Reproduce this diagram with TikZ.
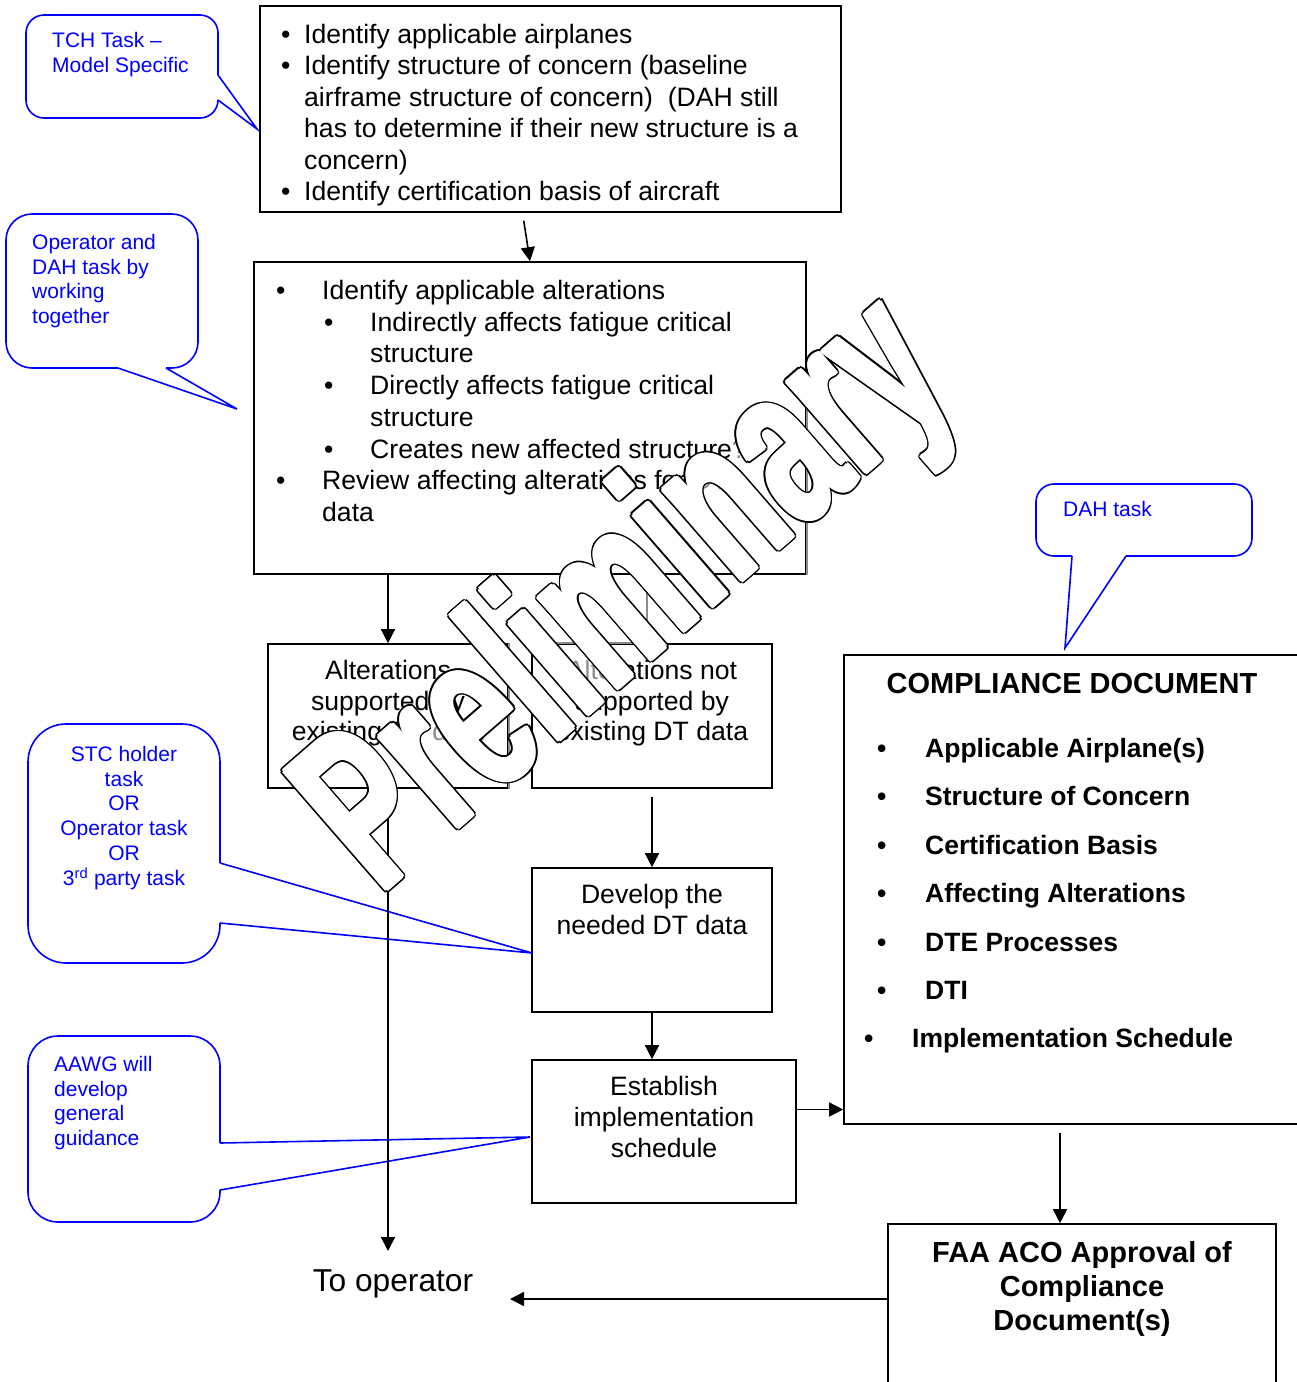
\documentclass[tikz,border=0pt]{standalone}
\usepackage{fontspec}
\setmainfont{Liberation Sans}
\usepackage{xcolor}
\usetikzlibrary{arrows.meta,positioning,calc}
\definecolor{noteblue}{HTML}{0000FF}
\definecolor{fadegray}{HTML}{8C8C8C}
\newcommand{\notefont}{\fontsize{21}{24.7}\selectfont}
\newcommand{\wmfont}{\fontsize{141}{160}\selectfont\bfseries}
\newcommand{\bul}[1]{\makebox[#1][l]{\textbullet}}

\begin{document}
\begin{tikzpicture}[x=1pt, y=-1pt,
  every node/.style={inner sep=0pt},
  box/.style={draw, line width=1.6pt},
  txt/.style={anchor=base},
  ltxt/.style={anchor=base west},
  note/.style={font=\notefont, text=noteblue},
  bubble/.style={draw=noteblue, line width=1.6pt},
  arrow/.style={-{Triangle[length=14pt,width=14pt]}, line width=1.6pt},
  faded/.style={draw=fadegray, line width=1.6pt},
  wmark/.style={anchor=base west, rotate=41, yscale=1.62, font=\wmfont}
]
\useasboundingbox (0,0) rectangle (1297,1382);
\clip (0,0) rectangle (1297,1382);

% boxes
\node[box, minimum width=581pt, minimum height=206pt] (idbox) at (550.5,109) {};
\node[box, minimum width=552pt, minimum height=312pt] (alterbox) at (530,418) {};
\node[box, minimum width=240pt, minimum height=144pt] (supbox) at (388,716) {};
\node[box, minimum width=240pt, minimum height=144pt] (unsupbox) at (652,716) {};
\node[box, minimum width=240pt, minimum height=144pt] (devbox) at (652,940) {};
\node[box, minimum width=264pt, minimum height=143pt] (schedbox) at (664,1131.5) {};
\node[box, minimum width=470pt, minimum height=469pt] (compbox) at (1079,889.5) {};
\node[box, minimum width=388pt, minimum height=196pt] (faabox) at (1082,1322) {};

% box texts
\node[ltxt, font=\fontsize{26.6}{31.4}\selectfont] (idtext) at (281,43.5) {\begin{tabular}[t]{@{}l@{}}
\bul{23pt}Identify applicable airplanes\\
\bul{23pt}Identify structure of concern (baseline\\
\hspace*{23pt}airframe structure of concern)\ \ (DAH still\\
\hspace*{23pt}has to determine if their new structure is a\\
\hspace*{23pt}concern)\\
\bul{23pt}Identify certification basis of aircraft
\end{tabular}};
\node[ltxt, font=\fontsize{26.6}{31.7}\selectfont] (altertext) at (276,299.5) {\begin{tabular}[t]{@{}l@{}}
\bul{46pt}Identify applicable alterations\\
\hspace*{48pt}\bul{46pt}Indirectly affects fatigue critical\\
\hspace*{94pt}structure\\
\hspace*{48pt}\bul{46pt}Directly affects fatigue critical\\
\hspace*{94pt}structure\\
\hspace*{48pt}\bul{46pt}Creates new affected structure\textcolor{fadegray}{?}\\
\bul{46pt}Review affecting alterations for \textcolor{fadegray}{DT}\\
\hspace*{46pt}data
\end{tabular}};
\node[txt, font=\fontsize{26.6}{30.5}\selectfont] (suptext) at (388,679.5) {\begin{tabular}[t]{@{}c@{}}
Alterations\\ supported by\\ existing DT \textcolor{fadegray}{data}\end{tabular}};
\node[txt, font=\fontsize{26.6}{30.5}\selectfont] (unsuptext) at (652,679.5) {\begin{tabular}[t]{@{}c@{}}
\textcolor{fadegray}{Alter}ations not\\ supported by\\ existing DT data\end{tabular}};
\node[txt, font=\fontsize{26.6}{31}\selectfont] (devtext) at (652,903.5) {\begin{tabular}[t]{@{}c@{}}
Develop the\\ needed DT data\end{tabular}};
\node[txt, font=\fontsize{26.6}{31}\selectfont] (schedtext) at (664,1095.5) {\begin{tabular}[t]{@{}c@{}}
Establish\\ implementation\\ schedule\end{tabular}};
\node[txt, font=\fontsize{29}{34}\selectfont\bfseries] (comptitle) at (1072,693.4) {COMPLIANCE DOCUMENT};
\node[ltxt, font=\fontsize{26.5}{48.4}\selectfont\bfseries] (complist) at (877,757.5) {\begin{tabular}[t]{@{}l@{}}
\bul{48pt}Applicable Airplane(s)\\
\bul{48pt}Structure of Concern\\
\bul{48pt}Certification Basis\\
\bul{48pt}Affecting Alterations\\
\bul{48pt}DTE Processes\\
\bul{48pt}DTI\\
\hspace*{-13pt}\bul{48pt}Implementation Schedule
\end{tabular}};
\node[txt, font=\fontsize{29}{34}\selectfont\bfseries] (faatext) at (1082,1262.4) {\begin{tabular}[t]{@{}c@{}}
FAA ACO Approval of\\ Compliance\\ Document(s)\end{tabular}};
\node[txt, font=\fontsize{31.7}{36}\selectfont] (tooper) at (393,1291.3) {To operator};

% callouts
\draw[bubble, rounded corners=18pt] (218,100) -- (218,118) -- (26,118) -- (26,15) -- (218,15) -- (218,75);
\draw[bubble] (218,75) -- (257,129) -- (218,100);
\node[note, ltxt] (tchnote) at (52,47.5) {\begin{tabular}[t]{@{}l@{}}TCH Task –\\ Model Specific\end{tabular}};

\draw[bubble, rounded corners=26pt] (166,368) -- (198,368) -- (198,214) -- (6,214) -- (6,368) -- (118,368);
\draw[bubble] (118,368) -- (237,409) -- (166,368);
\node[note, ltxt] (jointnote) at (32,249.5) {\begin{tabular}[t]{@{}l@{}}Operator and\\ DAH task by\\ working\\ together\end{tabular}};

\draw[bubble, rounded corners=18pt] (1126,556) -- (1252,556) -- (1252,484) -- (1036,484) -- (1036,556) -- (1072,556);
\draw[bubble] (1072,556) -- (1065,648) -- (1126,556);
\node[note, ltxt] (dahnote) at (1063,516.5) {DAH task};

\draw[bubble, rounded corners=38pt] (220,923) -- (220,963) -- (28,963) -- (28,724) -- (220,724) -- (220,863);
\draw[bubble] (220,863) -- (532,953) -- (220,923);
\node[note, txt] (stcnote) at (124,761.5) {\begin{tabular}[t]{@{}c@{}}STC holder\\ task\\ OR\\ Operator task\\ OR\\ 3\textsuperscript{rd} party task\end{tabular}};

\draw[bubble, rounded corners=30pt] (220,1190) -- (220,1222) -- (28,1222) -- (28,1036) -- (220,1036) -- (220,1143);
\draw[bubble] (220,1143) -- (530,1137) -- (220,1190);
\node[note, ltxt] (aawgnote) at (54,1071.5) {\begin{tabular}[t]{@{}l@{}}AAWG will\\ develop\\ general\\ guidance\end{tabular}};

% connectors
\draw[arrow, shorten <=8pt] ([xshift=-28pt]idbox.south) -- (alterbox.north);
\draw[arrow] (supbox.north |- alterbox.south) -- (supbox.north);
\draw[arrow, draw=fadegray, fill=fadegray] ([xshift=-5pt]unsupbox.north |- alterbox.south) -- ([xshift=-5pt]unsupbox.north);
\draw[arrow, shorten <=8pt] (unsupbox.south) -- (devbox.north);
\draw[arrow] (devbox.south) -- (devbox.south |- schedbox.north);
\coordinate (opin) at (388,1251);
\draw[arrow] (supbox.south) -- (opin);
\coordinate (schedout) at ([yshift=22pt]schedbox.east);
\draw[arrow] (schedout) -- (schedout -| compbox.west);
\coordinate (faain) at ([xshift=-22pt]faabox.north);
\draw[arrow, shorten <=8pt] (faain |- compbox.south) -- (faain);
\coordinate (faaout) at ([yshift=23pt]faabox.west);
\coordinate (operin) at (510,1299);
\draw[arrow, shorten <=-2pt] (faaout) -- (operin);

% faded edges under the watermark
\draw[faded] (supbox.north east) -- (supbox.south east);
\draw[faded] (unsupbox.north west) -- (unsupbox.north);
\draw[faded] (alterbox.south east) -- ([yshift=38pt]alterbox.east);

% watermark: black rim, then white body
\coordinate (wmbase) at (380,896);
\foreach \a in {0,22.5,...,337.5}
  \node[wmark, text=black] at ($(wmbase)+(\a:3.6)$) {Preliminary};
\foreach \a in {0,45,...,315}
  \node[wmark, text=white] at ($(wmbase)+(\a:2)$) {Preliminary};
\node[wmark, text=white] (wm) at (wmbase) {Preliminary};
\end{tikzpicture}
\end{document}
